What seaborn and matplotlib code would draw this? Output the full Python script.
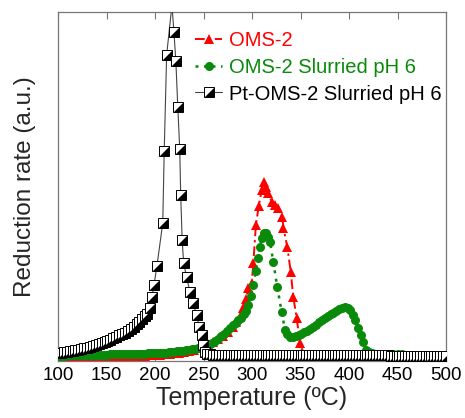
import numpy as np
import pandas as pd
import matplotlib
matplotlib.use("Agg")
import matplotlib.pyplot as plt
import seaborn as sns
from matplotlib.lines import Line2D
from matplotlib.legend_handler import HandlerTuple

# ---------------- data ----------------
oms_T = [100, 105, 110, 115, 120, 125, 130, 135, 140, 145, 150, 155, 160, 165, 170, 175, 180, 185, 190, 195,
         200, 205, 210, 215, 220, 225, 230, 235, 240, 245, 250,
         255, 260, 265, 270, 275, 280, 284, 288, 291, 294, 296, 299.7, 301.4, 304, 307, 310, 312.4, 314.5,
         316.8, 320.3, 323.7, 327, 331.3, 332.4, 336.4, 339.9, 342.6, 346, 349.5, 352, 355]
oms_y = [0.0, 0.0, 0.0, 0.1, 0.1, 0.1, 0.1, 0.2, 0.2, 0.2, 0.2, 0.3, 0.3, 0.3, 0.4, 0.4, 0.5, 0.5, 0.6, 0.7,
         0.8, 0.9, 1.0, 1.1, 1.3, 1.5, 1.7, 2.0, 2.4, 2.8, 3.3,
         3.9, 4.6, 5.4, 6.4, 7.6, 9.0, 10.4, 11.8, 14.5, 17.0, 20.2, 21.7, 27.4, 38.4, 44.0, 48.5, 50.9, 49.5,
         47.7, 45.1, 44.2, 43.4, 40.8, 37.6, 32.1, 24.9, 17.6, 11.6, 4.3, 1.7, 0.6]

slur_T = [100, 103, 106, 109, 112, 115, 118, 121, 124, 127, 130, 133, 136, 139, 142, 145, 148, 151, 154, 157,
          160, 163, 166, 169, 172, 175, 178, 181, 184, 187, 190, 193, 196, 199, 202, 205, 208, 211, 214, 217,
          220, 223, 226, 229, 232, 235, 238, 241, 244, 247, 250, 253, 256, 259, 262, 265, 268, 271, 274, 277,
          280, 283, 286, 289, 292, 294, 296, 299, 301, 304, 306, 308, 310, 312, 314, 316, 318.6, 322, 326, 330.6,
          334, 336.5, 339, 342, 345, 348, 351, 354, 357, 360, 363, 366, 369, 372, 375, 378, 381, 384, 387, 390,
          393, 396, 399, 401, 404, 406, 409, 412, 414.6, 418, 421, 424, 427, 430, 435, 440, 445, 450, 455, 460,
          465, 470]
slur_y = [0.6, 0.6, 0.6, 0.7, 0.7, 0.7, 0.7, 0.8, 0.8, 0.8, 0.8, 0.8, 0.9, 0.9, 0.9, 0.9, 0.9, 0.9, 1.0, 1.0,
          1.0, 1.0, 1.0, 1.1, 1.1, 1.1, 1.1, 1.2, 1.2, 1.2, 1.2, 1.3, 1.3, 1.3, 1.4, 1.4, 1.5, 1.5, 1.6, 1.7,
          1.8, 1.9, 2.0, 2.1, 2.2, 2.4, 2.5, 2.7, 2.9, 3.1, 3.3, 3.6, 4.0, 4.4, 4.9, 5.5, 6.2, 7.0, 7.8, 8.6,
          9.4, 10.1, 10.9, 11.6, 12.6, 13.5, 15.3, 18.0, 21.1, 25.0, 28.9, 32.0, 34.7, 36.0, 36.1, 35.0, 33.5, 27.7, 20.5, 13.3,
          8.1, 6.8, 6.1, 6.0, 6.2, 6.6, 7.0, 7.4, 7.9, 8.3, 8.8, 9.6, 10.3, 10.9, 11.5, 12.1, 12.6, 13.1, 13.6, 14.1,
          14.5, 14.6, 14.3, 13.9, 12.4, 11.0, 8.7, 6.6, 4.6, 2.3, 1.7, 1.4, 1.2, 1.1, 1.0, 1.0, 1.0, 1.0, 1.0, 0.9,
          0.9, 0.9]

pt_T = [100, 103, 106, 109, 112, 115, 118, 121, 124, 127, 130, 133, 136, 139, 142, 145, 148, 151, 154, 157,
        160, 163, 166, 169, 172, 175, 178, 181, 184, 187, 190, 192, 195, 197, 199, 202, 208, 209.5, 212, 217.5,
        219.5, 221.5, 223.5, 225.5, 226.5, 228, 229.5, 232.5, 236, 239, 243, 245.5, 248, 249.5, 251.5,
        254, 257, 260, 263, 266, 269, 272, 275, 278, 281, 284, 287, 290, 293, 296, 299, 302, 305, 308, 311,
        314, 317, 320, 323, 326, 329, 332, 335, 338, 341, 344, 347, 350, 353, 356, 359, 362, 365, 368, 371,
        374, 377, 380, 383, 386, 389, 392, 395, 398, 401, 404, 407, 410, 413, 416, 419, 422, 425, 428, 431,
        434, 437, 440, 443, 446, 449, 452, 455, 458, 461, 464, 467, 470, 473, 476, 479, 482, 485, 488, 491,
        494, 497, 500]
pt_y = [1.4, 1.5, 1.6, 1.8, 1.9, 2.1, 2.3, 2.4, 2.6, 2.8, 3.0, 3.2, 3.5, 3.8, 4.1, 4.4, 4.7, 5.0, 5.3, 5.7,
        6.1, 6.5, 6.9, 7.3, 7.8, 8.4, 9.0, 9.7, 10.5, 11.3, 12.0, 12.6, 14.5, 17.6, 21.1, 26.6, 39.0, 59.8, 87.6, 102.0,
        94.2, 85.8, 72.5, 60.4, 47.1, 34.1, 27.5, 23.4, 19.1, 15.9, 12.4, 9.0, 6.6, 3.8, 1.7,
        1.2, 1.0, 0.9, 0.9, 0.8, 0.8, 0.8, 0.8, 0.8, 0.8, 0.8, 0.8, 0.8, 0.8, 0.8, 0.8, 0.8, 0.8, 0.8, 0.8,
        0.8, 0.8, 0.8, 0.8, 0.8, 0.8, 0.8, 0.8, 0.8, 0.8, 0.8, 0.8, 0.8, 0.7, 0.7, 0.7, 0.7, 0.7, 0.7, 0.7,
        0.7, 0.7, 0.7, 0.7, 0.7, 0.7, 0.7, 0.7, 0.7, 0.7, 0.7, 0.7, 0.7, 0.7, 0.7, 0.7, 0.7, 0.7, 0.7, 0.7,
        0.7, 0.7, 0.7, 0.6, 0.6, 0.6, 0.6, 0.6, 0.6, 0.6, 0.6, 0.6, 0.6, 0.6, 0.6, 0.6, 0.6, 0.6, 0.6, 0.6,
        0.6, 0.6, 0.6]

labels = ["OMS-2", "OMS-2 Slurried pH 6", "Pt-OMS-2 Slurried pH 6"]
xticks = [100, 150, 200, 250, 300, 350, 400, 450, 500]

RED = "#ff0000"
GREEN = "#0a8a0a"
BLACK = "#000000"

# ---------------- style ----------------
sns.set_theme(style="white")
plt.rcParams["font.family"] = ["Liberation Sans", "DejaVu Sans"]

fig = plt.figure(figsize=(4.65, 4.18), dpi=100)
ax = fig.add_axes([58 / 465, 1 - 361 / 418, 388 / 465, 349 / 418])

red_ls = (0, (5, 2, 1.2, 2))
green_ls = (0, (1.2, 2.2))
MS = 7

sns.lineplot(x=oms_T, y=oms_y, ax=ax, sort=False, estimator=None, color=RED, lw=1.4,
             linestyle=red_ls, marker="^", ms=MS, mfc=RED, mec=RED, mew=0, zorder=2)
sns.lineplot(x=slur_T, y=slur_y, ax=ax, sort=False, estimator=None, color=GREEN, lw=1.8,
             linestyle=green_ls, marker="o", ms=6.5, mfc=GREEN, mec=GREEN, mew=0, zorder=3)
sns.lineplot(x=pt_T, y=pt_y, ax=ax, sort=False, estimator=None, color="#444444", lw=0.8, zorder=4)

tri = [(-1, -1), (1, -1), (1, 1), (-1, -1)]
for i, (t, v) in enumerate(zip(pt_T, pt_y)):
    z = 5 + i * 0.01
    ax.plot([t], [v], ls="none", marker="s", ms=MS, mfc="white", mec=BLACK, mew=0.7, zorder=z)
    ax.plot([t], [v], ls="none", marker=tri, ms=MS, mfc=BLACK, mec=BLACK, mew=0, zorder=z + 0.001)

ax.set_xlim(100, 500)
ax.set_ylim(-0.9, 100)
ax.set_xticks(xticks)
ax.set_xticklabels([str(t) for t in xticks])
ax.set_yticks([])
ax.tick_params(axis="x", direction="in", top=True, bottom=True, length=5, width=0.8,
               color="#777777", labelsize=13.5, pad=4, labelcolor="black")
for s in ax.spines.values():
    s.set_color("#777777")
    s.set_linewidth(0.9)

ax.set_xlabel("Temperature (ºC)", fontsize=18, labelpad=2)
ax.set_ylabel("Reduction rate (a.u.)", fontsize=17.5, labelpad=16)

h_red = Line2D([], [], color=RED, lw=1.4, ls=red_ls, marker="^", ms=MS, mfc=RED, mec=RED, mew=0)
h_green = Line2D([], [], color=GREEN, lw=1.8, ls=green_ls, marker="o", ms=6.5, mfc=GREEN, mec=GREEN, mew=0)
h_b1 = Line2D([], [], color="#444444", lw=0.8, marker="s", ms=MS, mfc="white", mec=BLACK, mew=0.7)
h_b2 = Line2D([], [], ls="none", marker=tri, ms=MS, mfc=BLACK, mec=BLACK, mew=0)
ax.legend([h_red, h_green, (h_b1, h_b2)], labels,
          handler_map={tuple: HandlerTuple(ndivide=1, pad=0)},
          loc="upper left", bbox_to_anchor=(0.353, 0.945), frameon=False, fontsize=14.5,
          handlelength=1.35, handletextpad=0.35, labelspacing=0.38, borderpad=0, borderaxespad=0,
          labelcolor=[RED, GREEN, BLACK])

fig.savefig("out.png", dpi=100)
